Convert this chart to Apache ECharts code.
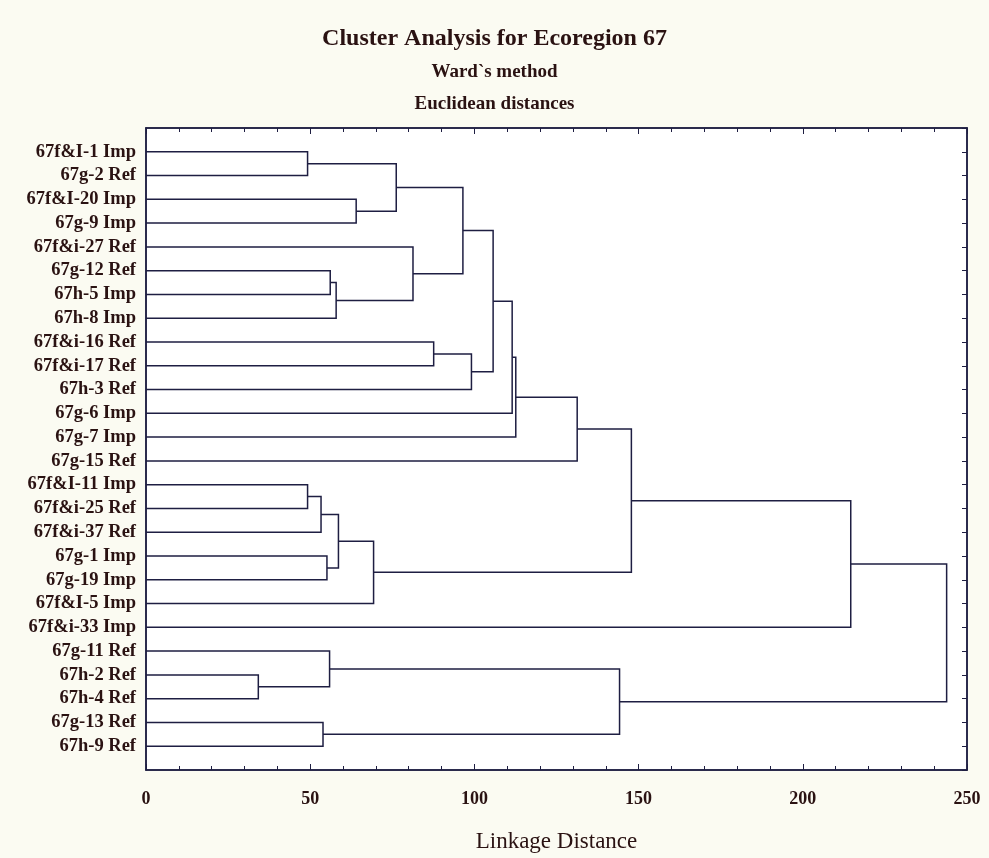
<!DOCTYPE html>
<html>
<head>
<meta charset="utf-8">
<script src="https://cdn.jsdelivr.net/npm/echarts@6/dist/echarts.min.js"></script>
<style>
html,body{margin:0;padding:0;background:#fbfbf2;}
#chart{width:989px;height:858px;}
</style>
</head>
<body>
<div id="chart"></div>
<script>
// Leaf labels, top to bottom
const leaves = [
  "67f&I-1 Imp","67g-2 Ref","67f&I-20 Imp","67g-9 Imp","67f&i-27 Ref",
  "67g-12 Ref","67h-5 Imp","67h-8 Imp","67f&i-16 Ref","67f&i-17 Ref",
  "67h-3 Ref","67g-6 Imp","67g-7 Imp","67g-15 Ref","67f&I-11 Imp",
  "67f&i-25 Ref","67f&i-37 Ref","67g-1 Imp","67g-19 Imp","67f&I-5 Imp",
  "67f&i-33 Imp","67g-11 Ref","67h-2 Ref","67h-4 Ref","67g-13 Ref","67h-9 Ref"
];
// Merges: child node ids (0..25 leaves, 26+ = previous merges in order)
const mergeLeft  = [0, 2,26, 5,29, 4,28, 8,33,32,35,36,37,14,39,17,40,42,38,44,22,21,24,47,45];
const mergeRight = [1, 3,27, 6, 7,30,31, 9,10,34,11,12,13,15,16,18,41,19,43,20,23,46,25,48,49];
// Linkage distance of each merge
const mergeHeight = [49.2,64.0,76.2,56.1,57.9,81.3,96.5,87.6,99.1,105.7,111.5,112.6,131.3,
  49.2,53.3,55.1,58.6,69.3,147.8,214.6,34.2,55.9,53.9,144.2,243.8];
// X axis tick labels
const xTicks = [0,50,100,150,200,250];

const n = leaves.length;
const nodeY = [], nodeH = [];
for (let i = 0; i < n; i++) { nodeY.push(i + 1); nodeH.push(0); }
const segData = [];
for (let k = 0; k < mergeLeft.length; k++) {
  const a = mergeLeft[k], b = mergeRight[k], h = mergeHeight[k];
  segData.push([nodeH[a], nodeY[a], nodeH[b], nodeY[b], h]);
  nodeY.push((nodeY[a] + nodeY[b]) / 2);
  nodeH.push(h);
}

const ink = '#1e1e42';
const txt = '#2a1212';
const serif = '"Liberation Serif", "DejaVu Serif", serif';

const chart = echarts.init(document.getElementById('chart'));
chart.setOption({
  backgroundColor: '#fbfbf2',
  animation: false,
  title: [
    {text: 'Cluster Analysis for Ecoregion 67', left: 'center', top: 22,
     textStyle: {fontFamily: serif, fontSize: 24, fontWeight: 'bold', color: txt}},
    {text: 'Ward`s method', left: 'center', top: 58,
     textStyle: {fontFamily: serif, fontSize: 19, fontWeight: 'bold', color: txt}},
    {text: 'Euclidean distances', left: 'center', top: 90,
     textStyle: {fontFamily: serif, fontSize: 19, fontWeight: 'bold', color: txt}}
  ],
  grid: {left: 146, top: 128, right: 22, bottom: 86, show: true,
         backgroundColor: '#ffffff', borderColor: ink, borderWidth: 1.5},
  xAxis: [
    {type: 'value', min: 0, max: 250, interval: 50, position: 'bottom',
     name: 'Linkage Distance', nameLocation: 'middle', nameGap: 60,
     nameTextStyle: {fontFamily: serif, fontSize: 23, color: txt},
     axisLine: {show: true, onZero: false, lineStyle: {color: ink, width: 1.5}},
     axisTick: {show: true, inside: true, length: 6, lineStyle: {color: ink}},
     minorTick: {show: true, splitNumber: 5, length: 4, lineStyle: {color: ink}},
     splitLine: {show: false},
     axisLabel: {fontFamily: serif, fontSize: 18, fontWeight: 'bold', color: txt, margin: 20,
       formatter: v => xTicks.indexOf(v) >= 0 ? String(v) : ''}},
    {type: 'value', min: 0, max: 250, interval: 50, position: 'top',
     axisLine: {show: true, onZero: false, lineStyle: {color: ink, width: 1.5}},
     axisTick: {show: true, inside: true, length: 6, lineStyle: {color: ink}},
     minorTick: {show: true, splitNumber: 5, length: 4, lineStyle: {color: ink}},
     splitLine: {show: false}, axisLabel: {show: false}}
  ],
  yAxis: [
    {type: 'value', min: 0, max: n + 1, interval: 1, inverse: true, position: 'left',
     axisLine: {show: true, onZero: false, lineStyle: {color: ink, width: 1.5}},
     axisTick: {show: false}, splitLine: {show: false},
     axisLabel: {fontFamily: serif, fontSize: 18.5, fontWeight: 'bold', color: txt, margin: 10,
       formatter: v => (v >= 1 && v <= n) ? leaves[v - 1] : ''}},
    {type: 'value', min: 0, max: n + 1, interval: 1, inverse: true, position: 'right',
     axisLine: {show: true, onZero: false, lineStyle: {color: ink, width: 1.5}},
     axisTick: {show: true, inside: true, length: 5, lineStyle: {color: ink}},
     splitLine: {show: false}, axisLabel: {show: false}}
  ],
  series: [{
    type: 'custom',
    xAxisIndex: 0, yAxisIndex: 0,
    data: segData,
    clip: false,
    renderItem: function (params, api) {
      const p1 = api.coord([api.value(0), api.value(1)]);
      const p2 = api.coord([api.value(4), api.value(1)]);
      const p3 = api.coord([api.value(4), api.value(3)]);
      const p4 = api.coord([api.value(2), api.value(3)]);
      return {type: 'polyline', shape: {points: [p1, p2, p3, p4]},
              style: {stroke: ink, lineWidth: 1.5, fill: null}};
    }
  }]
});
</script>
</body>
</html>
